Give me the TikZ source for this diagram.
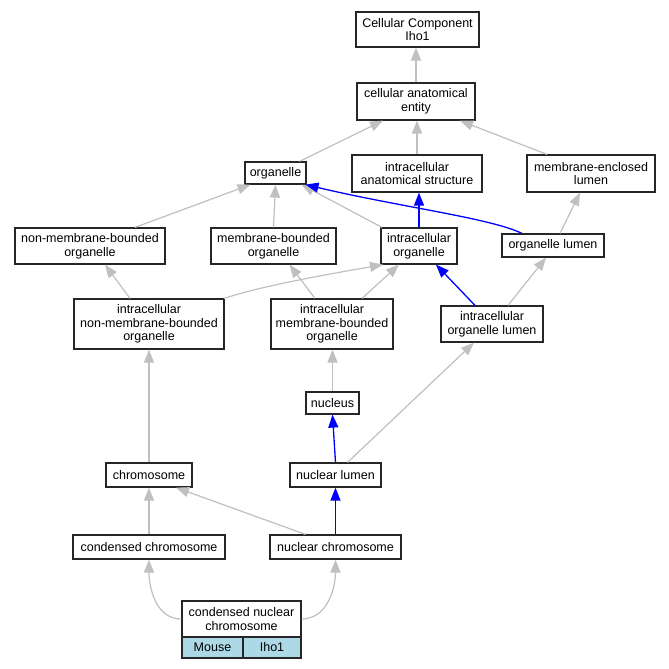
\documentclass[tikz,border=0pt]{standalone}
\usepackage{fontspec}
\setmainfont{Liberation Sans}
\usetikzlibrary{arrows.meta}
\definecolor{edgegray}{HTML}{C0C0C0}
\definecolor{edgeblue}{HTML}{0000FF}
\definecolor{cellblue}{HTML}{ADD8E6}
\begin{document}
\begin{tikzpicture}[x=1pt,y=-1pt,
  termbox/.style={draw=black!85, line width=1.2pt, fill=white, inner sep=0pt, align=center,
    font=\fontsize{12.5}{13.6}\selectfont},
  cellbox/.style={termbox, fill=cellblue},
  isa/.style={draw=edgegray, line width=1.2pt, -{Triangle[length=13pt,width=10pt]}},
  partof/.style={draw=edgeblue, line width=1.3pt, -{Triangle[length=13pt,width=10pt]}}]
\useasboundingbox (0,0) rectangle (669,669);
\fill[white] (0,0) rectangle (669,669);

\node[termbox, minimum width=123pt, minimum height=35pt] (CC) at (417.5,29.5) {Cellular Component\\Iho1};
\node[termbox, minimum width=118pt, minimum height=37pt] (cae) at (416,101.5) {cellular anatomical\\entity};
\node[termbox, minimum width=61pt, minimum height=22pt] (org) at (275.5,173) {organelle};
\node[termbox, minimum width=130pt, minimum height=37pt] (ias) at (417,173.5) {intracellular\\anatomical structure};
\node[termbox, minimum width=128pt, minimum height=37pt] (mel) at (591,173.5) {membrane-enclosed\\lumen};
\node[termbox, minimum width=150pt, minimum height=36pt] (nmbo) at (90,246) {non-membrane-bounded\\organelle};
\node[termbox, minimum width=125pt, minimum height=36pt] (mbo) at (273.5,246) {membrane-bounded\\organelle};
\node[termbox, minimum width=76pt, minimum height=36pt] (io) at (419,246) {intracellular\\organelle};
\node[termbox, minimum width=102pt, minimum height=23pt] (ol) at (553,245.5) {organelle lumen};
\node[termbox, minimum width=150pt, minimum height=50pt] (inmbo) at (149,324) {intracellular\\non-membrane-bounded\\organelle};
\node[termbox, minimum width=122pt, minimum height=50pt] (imbo) at (332,324) {intracellular\\membrane-bounded\\organelle};
\node[termbox, minimum width=102pt, minimum height=36pt] (iol) at (492,324) {intracellular\\organelle lumen};
\node[termbox, minimum width=53pt, minimum height=22pt] (nuc) at (332.5,403) {nucleus};
\node[termbox, minimum width=86pt, minimum height=24pt] (chr) at (149,475) {chromosome};
\node[termbox, minimum width=91pt, minimum height=24pt] (nl) at (335.5,475) {nuclear lumen};
\node[termbox, minimum width=152pt, minimum height=24pt] (cch) at (149,547) {condensed chromosome};
\node[termbox, minimum width=131pt, minimum height=24pt] (nch) at (335.5,547) {nuclear chromosome};
\node[termbox, minimum width=119pt, minimum height=36pt] (cnc) at (241.5,619) {condensed nuclear\\chromosome};
\node[cellbox, minimum width=61pt, minimum height=21pt] (mouse) at (212.5,647.5) {Mouse};
\node[cellbox, minimum width=58pt, minimum height=21pt] (iho) at (272,647.5) {Iho1};

% is_a (gray)
\draw[isa] (cae.north) -- (cae.north |- CC.south);
\draw[isa] ([xshift=24pt]org.north) -- ([xshift=-33pt]cae.south);
\draw[isa] (ias.north) -- (ias.north |- cae.south);
\draw[isa] ([xshift=-44pt]mel.north) -- ([xshift=44pt]cae.south);
\draw[isa] ([xshift=45pt]nmbo.north) -- ([xshift=-25pt]org.south);
\draw[isa] (mbo.north) -- (org.south);
\draw[isa] ([xshift=-37pt]io.north) -- ([xshift=26pt]org.south);
\draw[isa] ([xshift=7pt]ol.north) -- ([xshift=-11pt]mel.south);
\draw[isa] ([xshift=-19pt]inmbo.north) -- ([xshift=15pt]nmbo.south);
\draw[isa] ([xshift=75pt]inmbo.north) .. controls (265,285) and (330,274) .. ([xshift=-36pt]io.south);
\draw[isa] ([xshift=-17pt]imbo.north) -- ([xshift=16pt]mbo.south);
\draw[isa] ([xshift=30pt]imbo.north) -- ([xshift=-20pt]io.south);
\draw[isa] ([xshift=16pt]iol.north) -- ([xshift=-7pt]ol.south);
\draw[isa] (nuc.north) -- (nuc.north |- imbo.south);
\draw[isa] ([xshift=12pt]nl.north) -- ([xshift=-18pt]iol.south);
\draw[isa] (chr.north) -- (inmbo.south);
\draw[isa] (cch.north) -- (chr.south);
\draw[isa] ([xshift=-30pt]nch.north) -- ([xshift=27pt]chr.south);
\draw[isa] (cnc.west) to[out=180,in=-90] (cch.south);
\draw[isa] (cnc.east) to[out=0,in=-90] (nch.south);

% part_of (blue)
\draw[partof] ([xshift=-31pt]ol.north) .. controls (490,218) and (400,207) .. ([xshift=30pt]org.south);
\draw[partof] (io.north) -- (io.north |- ias.south);
\draw[partof] ([xshift=-17pt]iol.north) -- ([xshift=17pt]io.south);
\draw[partof] (nl.north) -- (nuc.south);
\draw[partof] (nch.north) -- (nl.south);
\end{tikzpicture}
\end{document}
